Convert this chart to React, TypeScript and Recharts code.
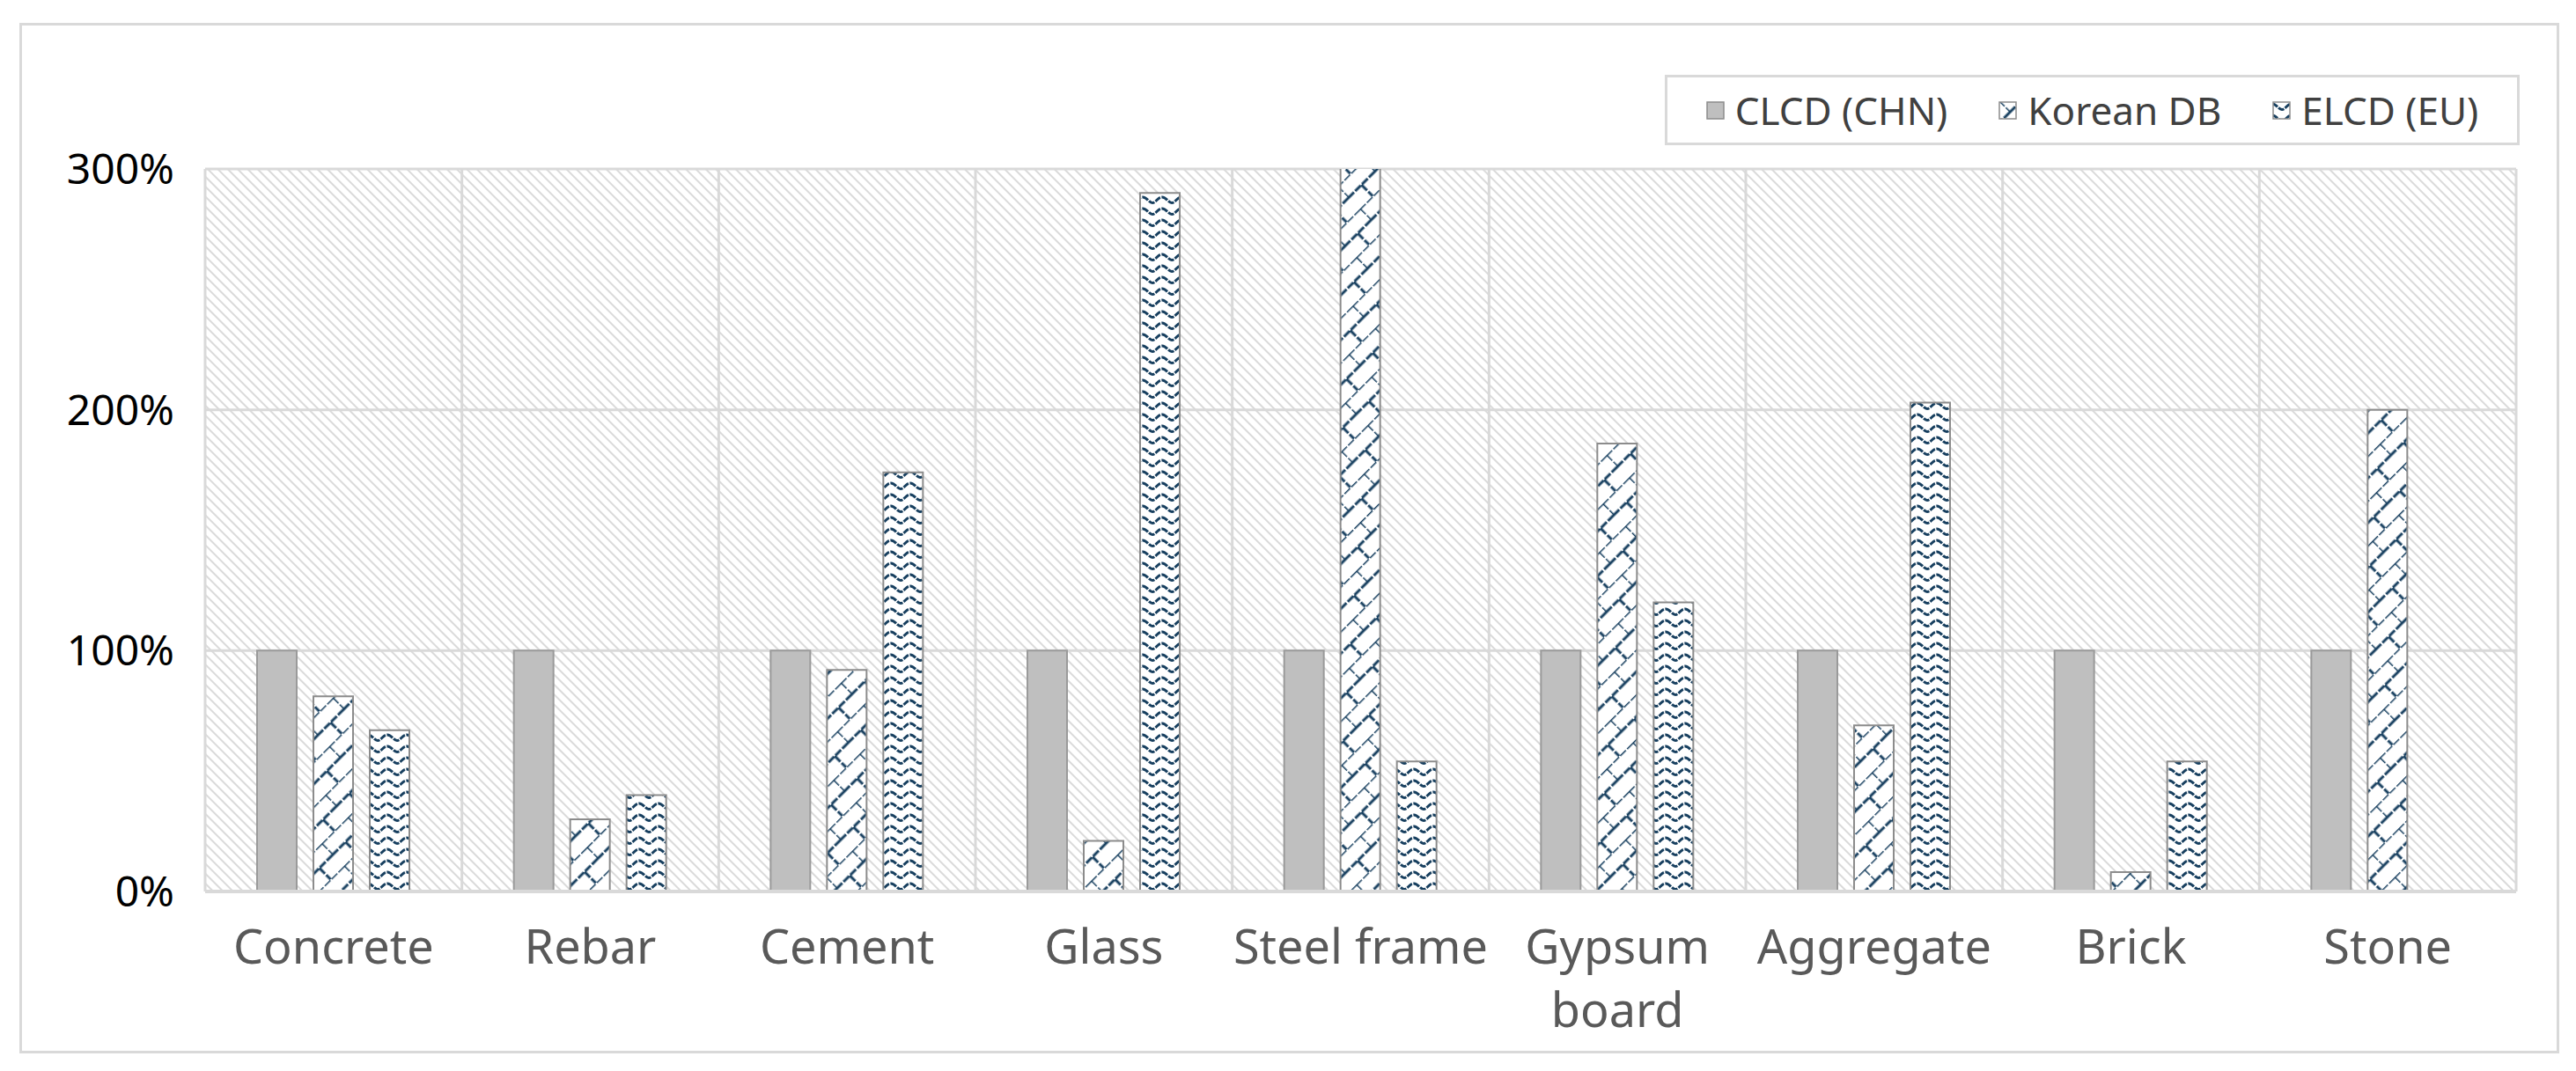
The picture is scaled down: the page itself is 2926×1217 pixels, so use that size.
import React from 'react';
import { BarChart, Bar, XAxis, YAxis, CartesianGrid } from 'recharts';

const FONT = "'Noto Sans', sans-serif";
const NAVY = '#173f5f';
const GRID = '#d9d9d9';

const categories = [
  'Concrete', 'Rebar', 'Cement', 'Glass', 'Steel frame',
  'Gypsum board', 'Aggregate', 'Brick', 'Stone',
];
const clcdValues = [100, 100, 100, 100, 100, 100, 100, 100, 100];
const koreanValues = [81, 30, 92, 21, 320, 186, 69, 8, 200];
const elcdValues: (number | null)[] = [67, 40, 174, 290, 54, 120, 203, 54, null];
const yTicks = [0, 100, 200, 300];
const seriesNames = ['CLCD (CHN)', 'Korean DB', 'ELCD (EU)'];

const data = categories.map((name, i) => ({
  name,
  clcd: clcdValues[i],
  korean: koreanValues[i],
  elcd: elcdValues[i],
}));

// svg patterns, suffix keeps ids unique between chart and legend
const Patterns = ({ suffix }: { suffix: string }) => (
  <defs>
    <pattern id={`bg${suffix}`} width="8" height="8" patternUnits="userSpaceOnUse" patternTransform="rotate(45)">
      <rect width="8" height="8" fill="#fff" />
      <line x1="0" y1="1" x2="8" y2="1" stroke="#dadada" strokeWidth="2" />
    </pattern>
    <pattern id={`korean${suffix}`} width="42" height="36" patternUnits="userSpaceOnUse" patternTransform="rotate(-45)">
      <rect width="42" height="36" fill="#fff" />
      <path d="M0,0 H42 M0,18 H42 M0,0 V18 M21,18 V36" stroke={NAVY} strokeWidth="3" strokeDasharray="9 2" fill="none" />
    </pattern>
    <pattern id={`elcd${suffix}`} width="22" height="13" patternUnits="userSpaceOnUse">
      <rect width="22" height="13" fill="#fff" />
      <path d="M0,3 C5,3 7,9.5 11,9.5 C15,9.5 17,3 22,3" stroke={NAVY} strokeWidth="3" strokeDasharray="7 1.5" fill="none" />
    </pattern>
  </defs>
);

// wraps long category names onto a second line
const CategoryTick = (props: any) => {
  const { x, y, payload } = props;
  const words = String(payload.value).split(' ');
  const lines: string[] = [];
  words.forEach((w) => {
    const last = lines[lines.length - 1];
    if (last && (last + ' ' + w).length <= 11) lines[lines.length - 1] = last + ' ' + w;
    else lines.push(w);
  });
  return (
    <text x={x} y={y} textAnchor="middle" fill="#595959" fontSize={54} fontFamily={FONT}>
      {lines.map((l, i) => (
        <tspan key={i} x={x} dy={i === 0 ? '0.71em' : 72}>{l}</tspan>
      ))}
    </text>
  );
};

const swatchFills = ['#bfbfbf', 'url(#koreanL)', 'url(#elcdL)'];

const Legend = () => (
  <div
    style={{
      position: 'absolute', left: 1891, top: 85, width: 971, height: 80,
      boxSizing: 'border-box', border: `3px solid ${GRID}`, background: '#fff',
      display: 'flex', alignItems: 'center', justifyContent: 'center', gap: 58,
      fontFamily: FONT, fontSize: 44, color: '#404040',
    }}
  >
    {seriesNames.map((s, i) => (
      <div key={s} style={{ display: 'flex', alignItems: 'center', gap: 12 }}>
        <svg width={21} height={21}>
          {i === 1 && <Patterns suffix="L" />}
          <rect x={1} y={1} width={19} height={19} fill={swatchFills[i]} stroke="#8c8c8c" strokeWidth={1.5} />
        </svg>
        <span>{s}</span>
      </div>
    ))}
  </div>
);

export default function App() {
  return (
    <div style={{ position: 'absolute', left: 0, top: 0, width: 2926, height: 1217, background: '#fff' }}>
      <div
        style={{
          position: 'absolute', left: 22, top: 26, width: 2885, height: 1171,
          boxSizing: 'border-box', border: `3px solid ${GRID}`,
        }}
      />
      <div style={{ position: 'absolute', left: 0, top: 0 }}>
        <BarChart
          width={2926}
          height={1217}
          data={data}
          margin={{ top: 192, right: 68, left: 33, bottom: 54 }}
          barGap={19}
        >
          <Patterns suffix="" />
          <CartesianGrid
            stroke={GRID}
            strokeWidth={3}
            fill="url(#bg)"
            fillOpacity={1}
            verticalCoordinatesGenerator={({ offset }: any) =>
              Array.from({ length: categories.length + 1 }, (_, i) => offset.left + (i * offset.width) / categories.length)
            }
          />
          <XAxis
            dataKey="name"
            interval={0}
            height={150}
            tickLine={false}
            tickSize={0}
            tickMargin={44}
            axisLine={{ stroke: GRID, strokeWidth: 4 }}
            tick={(p: any) => <CategoryTick {...p} />}
          />
          <YAxis
            domain={[0, 300]}
            ticks={yTicks}
            allowDataOverflow
            width={200}
            axisLine={false}
            tickLine={false}
            tickSize={0}
            tickMargin={35}
            tick={{ fill: '#000', fontSize: 48, fontFamily: FONT }}
            tickFormatter={(v: number) => `${v}%`}
          />
          <Bar dataKey="clcd" name={seriesNames[0]} fill="#bfbfbf" stroke="#9a9a9a" strokeWidth={2} barSize={45} isAnimationActive={false} />
          <Bar dataKey="korean" name={seriesNames[1]} fill="url(#korean)" stroke="#8c8c8c" strokeWidth={2} barSize={45} isAnimationActive={false} />
          <Bar dataKey="elcd" name={seriesNames[2]} fill="url(#elcd)" stroke="#8c8c8c" strokeWidth={2} barSize={45} isAnimationActive={false} />
        </BarChart>
      </div>
      <Legend />
    </div>
  );
}
